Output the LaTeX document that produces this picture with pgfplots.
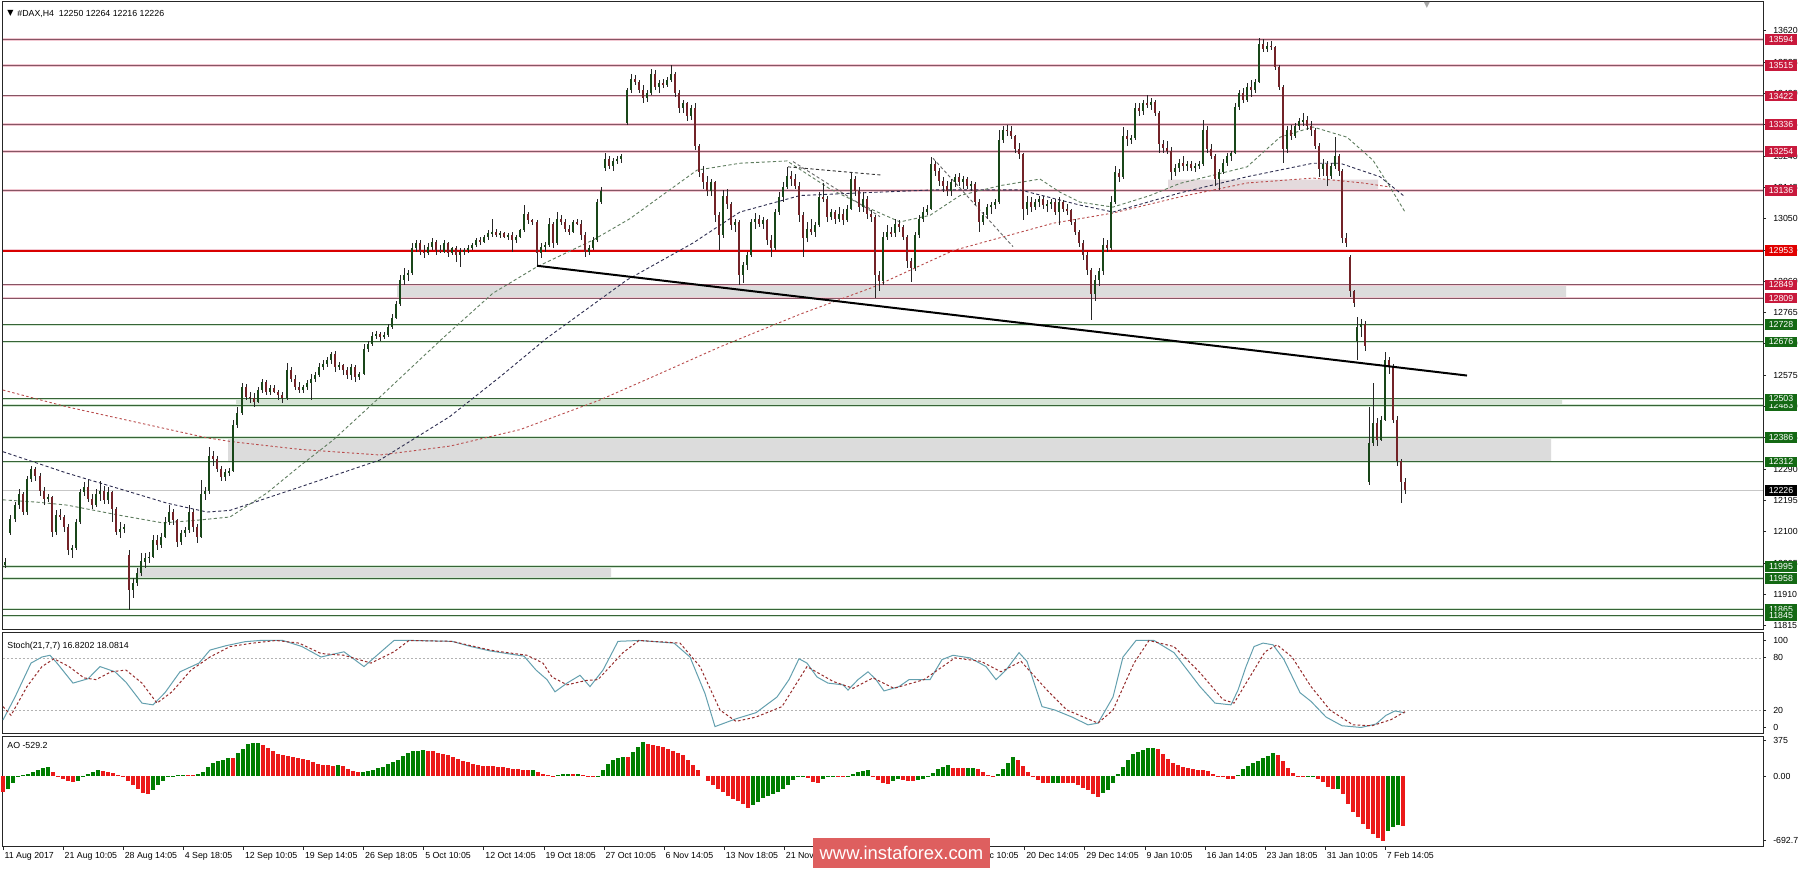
\documentclass[border=0pt]{standalone}
\usepackage{fontspec}
\setmainfont{Liberation Sans}
\newfontfamily\dejavu{DejaVu Sans}
\usepackage{pgfplots}
\usepackage{pgfplotstable}
\pgfplotsset{compat=1.18}

\definecolor{bullc}{RGB}{25,70,25}
\definecolor{bearc}{RGB}{115,35,40}
\definecolor{lvlred}{RGB}{200,25,60}
\definecolor{lvlbright}{RGB}{225,0,0}
\definecolor{lvlredline}{RGB}{135,85,100}
\definecolor{lvlredglow}{RGB}{242,200,210}
\definecolor{lvlgreen}{RGB}{20,105,20}
\definecolor{lvlgreenline}{RGB}{55,100,55}
\definecolor{lvlgreenglow}{RGB}{210,230,210}
\definecolor{stochmain}{RGB}{100,160,175}
\definecolor{stochsig}{RGB}{150,45,45}
\definecolor{aogreen}{RGB}{0,125,0}
\definecolor{aored}{RGB}{235,25,25}
\definecolor{mafast}{RGB}{95,125,95}
\definecolor{mamid}{RGB}{45,45,80}
\definecolor{maslow}{RGB}{185,75,75}
\definecolor{zone}{RGB}{220,220,220}
\definecolor{zonegreen}{RGB}{214,228,214}
\definecolor{zonepink}{RGB}{228,218,221}
\definecolor{wm}{RGB}{222,95,95}

\newcommand{\tk}{\fontsize{4.4}{5}\selectfont}
\tikzset{lblbox/.style={anchor=west, xshift=1pt, fill=#1, text=white, font=\tk, inner sep=0pt, minimum width=15.6pt, minimum height=5.3pt}}

\pgfplotsset{
  mt4/.style={scale only axis, xmin=3, xmax=1763,
    axis line style={draw=black!85, line width=0.5pt},
    ytick pos=right, yticklabel pos=right, tick align=outside,
    major tick length=1.6pt, tick style={draw=black!85, line width=0.4pt},
    ticklabel style={font=\tk, text=black},
    clip=false,
    /pgf/number format/assume math mode=true,
    /pgf/number format/1000 sep={},
    scaled y ticks=false, scaled x ticks=false},
  wick/.style={only marks, mark=*, mark size=0.01pt, mark options={draw opacity=0, fill opacity=0},
    error bars/.cd, y dir=both, y explicit, error mark=none,
    error bar style={line width=0.45pt, color=black!85, solid}},
  body/.style={only marks, mark=*, mark size=0.01pt, mark options={draw opacity=0, fill opacity=0},
    error bars/.cd, y dir=both, y explicit, error mark=none,
    error bar style={line width=1.3pt, color=#1, solid}},
}

\pgfplotstableread{
x O H L C
5 12000 12020 11990 12010
10 12095 12150 12090 12140
15 12140 12190 12130 12180
19 12180 12230 12170 12215
23 12215 12220 12150 12160
27 12160 12270 12150 12260
31 12260 12300 12250 12290
35 12290 12298 12255 12270
40 12270 12280 12210 12225
44 12225 12235 12180 12200
48 12200 12215 12190 12205
52 12205 12210 12085 12100
56 12100 12165 12090 12150
60 12150 12170 12135 12145
64 12145 12150 12100 12115
68 12115 12125 12030 12045
72 12045 12060 12020 12050
76 12050 12140 12045 12130
80 12130 12230 12125 12220
84 12220 12250 12210 12235
88 12235 12258 12190 12200
92 12200 12215 12170 12180
96 12180 12230 12175 12215
100 12215 12255 12195 12225
104 12225 12240 12185 12195
108 12195 12235 12185 12220
112 12220 12225 12130 12170
116 12170 12175 12090 12100
120 12100 12130 12080 12110
124 12110 12125 12095 12115
129 12030 12045 11862 11925
133 11925 11960 11900 11945
137 11945 11990 11935 11975
141 11975 12035 11965 12010
145 12010 12035 11990 12020
149 12020 12040 12005 12025
153 12025 12090 12020 12075
157 12075 12090 12045 12060
161 12060 12095 12050 12085
165 12085 12145 12080 12130
169 12130 12180 12120 12160
173 12160 12170 12120 12135
177 12135 12140 12055 12070
181 12070 12105 12060 12095
185 12095 12115 12085 12105
189 12105 12180 12095 12160
193 12160 12170 12100 12115
197 12115 12125 12065 12085
201 12085 12258 12080 12215
205 12215 12235 12195 12225
209 12225 12357 12215 12330
213 12330 12345 12300 12320
217 12320 12330 12280 12290
221 12290 12300 12255 12265
225 12265 12290 12255 12280
229 12280 12295 12270 12285
233 12285 12440 12280 12425
237 12425 12478 12415 12460
242 12460 12550 12455 12540
246 12540 12548 12500 12510
250 12510 12525 12490 12505
254 12505 12520 12480 12495
258 12495 12540 12490 12530
262 12530 12565 12520 12555
266 12555 12560 12515 12525
270 12525 12545 12515 12535
274 12535 12545 12520 12525
278 12525 12530 12500 12515
282 12515 12525 12490 12505
287 12505 12612 12500 12590
291 12590 12600 12555 12565
295 12565 12575 12530 12540
299 12540 12555 12520 12530
303 12530 12545 12520 12540
307 12540 12560 12530 12550
311 12550 12580 12500 12565
315 12565 12585 12555 12575
319 12575 12612 12570 12600
323 12600 12620 12590 12610
327 12610 12630 12600 12620
331 12620 12645 12610 12640
335 12640 12648 12585 12600
339 12600 12615 12590 12605
343 12605 12610 12575 12590
347 12590 12600 12565 12575
351 12575 12610 12560 12600
355 12600 12605 12555 12570
359 12570 12585 12560 12580
364 12580 12670 12575 12655
368 12655 12680 12645 12670
372 12670 12705 12665 12695
376 12695 12710 12685 12700
380 12700 12705 12680 12690
384 12690 12705 12685 12698
388 12698 12730 12690 12720
392 12720 12760 12715 12750
396 12750 12800 12745 12790
400 12790 12880 12785 12865
404 12865 12900 12850 12880
408 12880 12895 12860 12885
412 12885 12975 12880 12960
416 12960 12985 12950 12975
420 12975 12985 12940 12950
424 12950 12970 12930 12945
428 12945 12975 12940 12965
432 12965 12990 12955 12980
436 12980 12985 12940 12955
440 12955 12970 12945 12950
444 12950 12985 12945 12975
448 12975 12980 12935 12945
452 12945 12965 12940 12960
456 12960 12968 12920 12940
460 12940 12960 12903 12950
464 12950 12962 12940 12955
468 12955 12970 12945 12960
472 12960 12975 12955 12970
476 12970 12990 12965 12985
480 12985 12995 12970 12980
484 12980 13000 12975 12995
488 12995 13015 12985 13005
492 13005 13050 12995 13010
496 13010 13020 12995 13000
500 13000 13012 12990 13005
504 13005 13010 12990 12995
508 12995 13005 12985 13000
512 13000 13010 12950 12985
516 12985 13000 12975 12995
520 12995 13020 12990 13015
524 13015 13091 13010 13065
528 13065 13070 13035 13045
532 13045 13050 13030 13040
537 13040 13045 12904 12945
541 12945 12975 12930 12965
545 12965 12980 12950 12970
549 12970 13052 12965 13035
553 13035 13040 12960 12975
557 12975 13070 12970 13050
561 13050 13060 13030 13040
565 13040 13050 13010 13020
569 13020 13030 13000 13010
573 13010 13045 13005 13040
577 13040 13050 13030 13035
581 13035 13045 12985 13000
585 13000 13010 12935 12950
589 12950 12970 12940 12960
593 12960 12995 12955 12985
597 12985 13110 12980 13100
601 13100 13145 13095 13135
605 13205 13250 13195 13230
609 13230 13240 13200 13210
613 13210 13235 13195 13225
617 13225 13240 13215 13230
621 13230 13245 13220 13240
627 13340 13446 13335 13440
631 13440 13490 13430 13475
635 13475 13485 13455 13465
639 13465 13470 13430 13440
643 13440 13455 13400 13415
647 13415 13440 13405 13430
651 13430 13505 13425 13490
655 13490 13500 13440 13450
659 13450 13470 13430 13460
663 13460 13475 13445 13455
667 13455 13480 13450 13470
671 13470 13516 13465 13490
675 13490 13495 13420 13430
679 13430 13440 13370 13385
683 13385 13410 13370 13400
687 13400 13405 13345 13360
691 13360 13395 13350 13385
695 13385 13400 13258 13270
699 13270 13275 13176 13190
703 13190 13210 13140 13160
707 13160 13180 13120 13135
711 13135 13170 13120 13160
715 13160 13165 13040 13060
719 13060 13070 12955 13000
723 13000 13137 12990 13120
727 13120 13140 13080 13095
731 13095 13100 13015 13030
735 13030 13050 13010 13040
739 13040 13045 12850 12880
743 12880 12920 12855 12910
747 12910 12950 12895 12940
751 12940 13050 12935 13040
755 13040 13067 13020 13050
759 13050 13060 13025 13035
763 13035 13055 13020 13045
767 13045 13050 12970 12985
771 12985 13000 12935 12960
775 12960 13080 12955 13070
779 13070 13130 13060 13115
783 13115 13160 13100 13145
787 13145 13207 13140 13180
791 13180 13195 13150 13170
795 13170 13185 13140 13150
799 13150 13160 13040 13060
803 13060 13070 12935 12990
807 12990 13040 12980 13020
811 13020 13050 13000 13010
815 13010 13040 12995 13030
819 13030 13130 13025 13115
823 13115 13158 13100 13110
827 13110 13120 13040 13055
831 13055 13080 13045 13070
835 13070 13075 13035 13050
839 13050 13085 13040 13065
843 13065 13080 13030 13045
847 13045 13090 13040 13080
851 13080 13188 13075 13170
855 13170 13180 13120 13135
859 13135 13145 13070 13085
863 13085 13130 13070 13110
867 13110 13120 13050 13065
871 13065 13075 13040 13055
875 13055 13060 12809 12880
879 12880 12890 12830 12860
883 12860 13010 12850 12995
887 12995 13030 12985 13010
891 13010 13025 12995 13005
895 13005 13050 12995 13035
899 13035 13045 13010 13025
903 13025 13030 12985 12995
907 12995 13000 12900 12920
911 12920 12930 12858 12900
915 12900 13010 12890 13000
919 13000 13060 12990 13050
923 13050 13085 13040 13070
927 13070 13090 13060 13080
931 13080 13237 13075 13215
935 13215 13225 13180 13195
939 13195 13205 13150 13165
943 13165 13175 13130 13150
947 13150 13165 13120 13135
951 13135 13170 13120 13160
955 13160 13185 13145 13175
959 13175 13190 13150 13160
963 13160 13180 13140 13170
967 13170 13175 13140 13150
971 13150 13165 13135 13155
975 13155 13160 13090 13100
979 13100 13110 13009 13040
983 13040 13070 13030 13060
987 13060 13095 13050 13085
991 13085 13100 13065 13090
995 13090 13110 13080 13100
999 13100 13320 13095 13290
1003 13290 13330 13280 13320
1007 13320 13334 13300 13315
1011 13315 13330 13290 13300
1015 13300 13305 13250 13260
1019 13260 13280 13230 13245
1023 13245 13250 13045 13080
1027 13080 13120 13060 13100
1031 13100 13115 13070 13085
1035 13085 13110 13075 13100
1039 13100 13120 13085 13110
1043 13110 13118 13080 13090
1047 13090 13105 13070 13095
1051 13095 13110 13080 13100
1055 13100 13110 13060 13070
1059 13070 13115 13030 13100
1063 13100 13105 13070 13080
1067 13080 13095 13060 13075
1071 13075 13080 13030 13040
1075 13040 13050 13000 13010
1079 13010 13015 12965 12975
1083 12975 12985 12925 12940
1087 12940 12950 12880 12895
1091 12895 12900 12742 12820
1095 12820 12880 12800 12865
1099 12865 12900 12845 12890
1103 12890 12990 12880 12970
1107 12970 12985 12950 12960
1111 12960 13120 12955 13100
1115 13100 13210 13095 13190
1119 13190 13200 13160 13175
1123 13175 13329 13170 13300
1127 13300 13320 13270 13290
1131 13290 13305 13275 13295
1135 13295 13400 13290 13385
1139 13385 13400 13360 13375
1143 13375 13410 13365 13400
1147 13400 13425 13385 13395
1151 13395 13415 13380 13405
1155 13405 13410 13360 13370
1159 13370 13375 13248 13275
1163 13275 13290 13250 13265
1167 13265 13285 13245 13255
1171 13255 13267 13167 13190
1175 13190 13215 13180 13205
1179 13205 13230 13190 13220
1183 13220 13240 13195 13210
1187 13210 13225 13195 13215
1191 13215 13225 13195 13205
1195 13205 13220 13190 13210
1199 13210 13225 13200 13215
1203 13215 13350 13210 13320
1207 13320 13330 13250 13260
1211 13260 13275 13230 13240
1215 13240 13245 13150 13170
1219 13170 13200 13137 13190
1223 13190 13230 13185 13220
1227 13220 13250 13210 13240
1231 13240 13255 13225 13250
1235 13250 13400 13245 13390
1239 13390 13440 13380 13430
1243 13430 13445 13400 13410
1247 13410 13460 13405 13450
1251 13450 13470 13420 13440
1255 13440 13475 13430 13465
1259 13465 13598 13460 13580
1263 13580 13595 13555 13565
1267 13565 13585 13555 13575
1271 13575 13590 13560 13570
1275 13570 13575 13500 13510
1279 13510 13515 13440 13450
1283 13450 13455 13218 13260
1287 13260 13330 13250 13320
1291 13320 13335 13290 13300
1295 13300 13340 13295 13330
1299 13330 13355 13320 13345
1303 13345 13370 13330 13350
1307 13350 13360 13320 13330
1311 13330 13345 13300 13320
1315 13320 13325 13260 13270
1319 13270 13280 13176 13200
1323 13200 13230 13180 13215
1327 13215 13225 13150 13180
1331 13180 13220 13170 13210
1335 13210 13297 13200 13240
1339 13240 13245 13180 13195
1342 13195 13200 12975 12990
1346 12990 13005 12965 12975
1350 12935 12940 12812 12830
1354 12830 12834 12783 12795
1357 12680 12752 12622 12720
1361 12720 12745 12690 12730
1365 12730 12740 12650 12665
1369 12250 12480 12242 12370
1373 12370 12550 12360 12430
1377 12430 12445 12360 12380
1381 12380 12450 12375 12440
1385 12440 12645 12435 12620
1389 12620 12630 12580 12600
1393 12600 12610 12430 12440
1397 12440 12450 12300 12315
1401 12315 12320 12187 12250
1405 12250 12264 12216 12226
}\candles

\pgfplotstableread{
x v c
3 -167 0
8 -142 1
13 -75 1
18 -15 1
23 10 1
28 24 1
33 42 1
38 62 1
43 85 1
48 100 1
53 40 0
58 5 0
63 -30 0
68 -55 0
73 -67 0
78 -55 1
83 -10 1
88 25 1
93 48 1
98 62 1
103 58 0
108 45 0
113 32 0
118 15 0
123 -5 0
128 -55 0
133 -100 0
138 -142 0
143 -185 0
148 -196 0
153 -150 1
158 -95 1
163 -50 1
168 -5 1
173 5 1
178 8 1
183 10 1
188 9 0
193 8 0
198 20 1
203 46 1
208 95 1
213 135 1
218 160 1
223 176 1
228 192 1
233 188 0
238 250 1
243 290 1
248 340 1
253 348 1
258 350 1
263 330 0
268 300 0
273 270 0
278 240 0
283 228 0
288 215 0
293 205 0
298 195 0
303 182 0
308 170 0
313 145 0
318 130 0
323 120 0
328 114 0
333 112 0
338 116 1
343 105 0
348 80 0
353 55 0
358 40 0
363 42 1
368 55 1
373 68 1
378 82 1
383 100 1
388 125 1
393 150 1
398 174 1
403 210 1
408 242 1
413 262 1
418 272 1
423 276 1
428 272 0
433 262 0
438 250 0
443 238 0
448 220 0
453 198 0
458 178 0
463 160 0
468 145 0
473 128 0
478 118 0
483 110 0
488 106 0
493 103 0
498 100 0
503 96 0
508 88 0
513 80 0
518 72 0
523 64 0
528 62 0
533 66 1
538 45 0
543 25 0
548 8 0
553 -5 0
558 8 1
563 18 1
568 21 1
573 19 0
578 20 1
583 15 0
588 5 0
593 -8 0
598 -6 1
603 64 1
608 125 1
613 171 1
618 190 1
623 206 1
628 200 0
633 255 1
638 310 1
643 359 1
648 340 0
653 328 0
658 318 0
663 307 0
668 290 0
673 270 0
678 250 0
683 220 0
688 170 0
693 120 0
698 60 0
703 0 0
708 -55 0
713 -100 0
718 -140 0
723 -175 0
728 -215 0
733 -245 0
738 -270 0
743 -300 0
748 -342 0
753 -310 1
758 -275 1
763 -240 1
768 -215 1
773 -195 1
778 -170 1
783 -140 1
788 -95 1
793 -40 1
798 -15 1
803 2 1
808 -20 0
813 -60 0
818 -70 0
823 -35 1
828 -10 1
833 -5 1
838 -8 0
843 -10 0
848 -5 1
853 25 1
858 46 1
863 58 1
868 64 1
873 5 0
878 -40 0
883 -70 0
888 -85 0
893 -55 1
898 -36 1
903 -45 0
908 -50 0
913 -52 0
918 -40 1
923 -36 1
928 -10 1
933 35 1
938 70 1
943 100 1
948 117 1
953 90 0
958 85 0
963 84 0
968 86 1
973 88 1
978 70 0
983 45 0
988 15 0
993 -2 0
998 20 1
1003 80 1
1008 140 1
1013 199 1
1018 170 0
1023 110 0
1028 40 0
1033 -10 0
1038 -45 0
1043 -71 0
1048 -75 0
1053 -72 1
1058 -70 1
1063 -72 0
1068 -75 0
1073 -80 0
1078 -100 0
1083 -125 0
1088 -150 0
1093 -190 0
1098 -221 0
1103 -185 1
1108 -150 1
1113 -70 1
1118 20 1
1123 100 1
1128 170 1
1133 230 1
1138 260 1
1143 280 1
1148 295 1
1153 300 1
1158 285 0
1163 240 0
1168 180 0
1173 140 0
1178 115 0
1183 100 0
1188 85 0
1193 75 0
1198 68 0
1203 64 0
1208 50 0
1213 25 0
1218 5 0
1223 -10 0
1228 -28 0
1233 -36 0
1238 10 1
1243 70 1
1248 110 1
1253 140 1
1258 160 1
1263 190 1
1268 215 1
1273 242 1
1278 225 0
1283 165 0
1288 90 0
1293 28 0
1298 5 0
1303 2 0
1308 3 1
1313 4 1
1318 -30 0
1323 -60 0
1328 -115 0
1333 -140 0
1338 -135 1
1343 -190 0
1348 -300 0
1353 -380 0
1358 -440 0
1363 -510 0
1368 -570 0
1373 -620 0
1378 -660 0
1383 -692.7 0
1388 -590 1
1393 -540 1
1398 -520 1
1403 -529.2 0
}\aotab

\begin{document}
\begin{tikzpicture}
\useasboundingbox (0,0) rectangle (900pt,434pt);
\fill[white] (0,0) rectangle (900pt,434pt);

% ================= MAIN PRICE PANEL =================
\begin{axis}[mt4, at={(1.5pt,119pt)}, anchor=south west, width=880pt, height=314pt,
  ymin=11802.2, ymax=13707.1, xtick=\empty,
  ytick={11815,11910,...,13620},
  yticklabel style={/pgf/number format/fixed, /pgf/number format/precision=0}]

% zones
\addplot[fill=zone, draw=none] coordinates {(397,12809) (1566,12809) (1566,12849) (397,12849) (397,12809)};
\addplot[fill=zonegreen, draw=none] coordinates {(236,12483) (1562,12483) (1562,12503) (236,12503) (236,12483)};
\addplot[fill=zone, draw=none] coordinates {(228,12312) (1551,12312) (1551,12386) (228,12386) (228,12312)};
\addplot[fill=zone, draw=none] coordinates {(138,11958) (611,11958) (611,11995) (138,11995) (138,11958)};
\addplot[fill=zonepink, draw=none] coordinates {(1168,13136) (1378,13136) (1378,13168) (1168,13168) (1168,13136)};

% horizontal levels
\pgfplotsinvokeforeach{13594,13515,13422,13336,13254,13136,12849,12809}{
  \addplot[lvlredglow, line width=1.3pt] coordinates {(3,#1) (1763,#1)};
  \addplot[lvlredline, line width=0.5pt] coordinates {(3,#1) (1763,#1)};
}
\addplot[lvlredglow, line width=1.8pt] coordinates {(3,12953) (1763,12953)};
\addplot[red!85!black, line width=0.9pt] coordinates {(3,12953) (1763,12953)};
\pgfplotsinvokeforeach{12728,12676,12503,12483,12386,12312,11995,11958,11865,11845}{
  \addplot[lvlgreenglow, line width=1.2pt] coordinates {(3,#1) (1763,#1)};
  \addplot[lvlgreenline, line width=0.5pt] coordinates {(3,#1) (1763,#1)};
}
\addplot[black!22, line width=0.5pt] coordinates {(3,12226) (1763,12226)};

% moving averages
\addplot[maslow, line width=0.45pt, dash pattern=on 1.2pt off 1.2pt] coordinates {
(3,12530) (67,12479) (140,12430) (207,12385) (233,12373) (300,12350) (380,12333) (450,12360) (520,12410) (600,12500) (660,12580) (720,12661) (800,12760) (873,12842) (953,12953) (1053,13036) (1113,13067) (1180,13116) (1247,13158) (1313,13173) (1363,13158) (1390,13146)};
\addplot[mamid, line width=0.45pt, dash pattern=on 1.6pt off 1.2pt] coordinates {
(3,12343) (67,12278) (120,12230) (167,12187) (207,12160) (230,12165) (300,12236) (380,12318) (450,12450) (500,12570) (547,12688) (627,12864) (693,12976) (740,13070) (800,13120) (860,13128) (933,13137) (1020,13137) (1080,13091) (1113,13070) (1180,13128) (1247,13177) (1313,13218) (1340,13218) (1380,13177) (1405,13116)};
\addplot[mafast, line width=0.45pt, dash pattern=on 1.6pt off 1.2pt] coordinates {
(3,12197) (37,12190) (67,12181) (120,12150) (163,12127) (200,12136) (230,12145) (267,12218) (300,12300) (333,12378) (380,12509) (443,12688) (493,12824) (537,12904) (593,12985) (630,13050) (660,13116) (697,13197) (740,13218) (787,13225) (830,13140) (870,13080) (900,13040) (930,13060) (960,13120) (1000,13150) (1040,13170) (1060,13130) (1080,13100) (1113,13085) (1150,13120) (1180,13157) (1247,13207) (1280,13297) (1313,13328) (1347,13297) (1373,13227) (1390,13146) (1405,13070)};
% drawn dashed segments
\addplot[black!80, line width=0.45pt, dash pattern=on 1.6pt off 1.2pt] coordinates {(788,13207) (882,13182)};
\addplot[black!60, line width=0.45pt, dash pattern=on 1.6pt off 1.2pt] coordinates {(793,13223) (880,13056)};
\addplot[black!60, line width=0.45pt, dash pattern=on 1.6pt off 1.2pt] coordinates {(933,13233) (1013,12965)};

% candles
\addplot[wick] table[x=x, y expr={(\thisrow{H}+\thisrow{L})/2}, y error expr={(\thisrow{H}-\thisrow{L})/2}] {\candles};
\addplot[body=bullc] table[x=x, y expr={(\thisrow{O}+\thisrow{C})/2}, y error expr={ifthenelse(\thisrow{C}>=\thisrow{O},max(abs(\thisrow{C}-\thisrow{O})/2,2.5),0)}] {\candles};
\addplot[body=bearc] table[x=x, y expr={(\thisrow{O}+\thisrow{C})/2}, y error expr={ifthenelse(\thisrow{C}<\thisrow{O},max(abs(\thisrow{C}-\thisrow{O})/2,2.5),0)}] {\candles};

% trendline
\addplot[black, line width=1pt] coordinates {(537,12907) (1467,12574)};

% anchors for price labels
\pgfplotsinvokeforeach{13594,13515,13422,13336,13254,13136,12953,12849,12809,12728,12676,12503,12483,12386,12312,12226,11995,11958,11865,11845}{
  \coordinate (L#1) at (axis cs:1763,#1);
}
\coordinate (HDR) at (axis cs:7,13672);
\coordinate (HDR2) at (axis cs:17,13672);
\coordinate (TRI) at (axis cs:1427,13696);
\end{axis}

\foreach \v in {13594,13515,13422,13336,13254,13136,12849,12809}{\node[lblbox=lvlred] at (L\v) {\v};}
\node[lblbox=lvlbright] at (L12953) {12953};
\foreach \v in {12728,12676,12483,12503,12386,12312,11995,11958,11865,11845}{\node[lblbox=lvlgreen] at (L\v) {\v};}
\node[lblbox=black] at (L12226) {12226};
\node[anchor=west, font=\dejavu\fontsize{4}{4}\selectfont, inner sep=0pt] at (HDR) {▼};
\node[anchor=west, font=\tk, inner sep=0pt] at (HDR2) {\#DAX,H4\ \ 12250 12264 12216 12226};
\node[font=\dejavu\fontsize{4}{4}\selectfont, text=black!35, inner sep=0pt] at (TRI) {▼};

% ================= STOCHASTIC PANEL =================
\begin{axis}[mt4, at={(1.5pt,67pt)}, anchor=south west, width=880pt, height=50.5pt,
  ymin=-7.5, ymax=108.6, xtick=\empty, ytick={0,20,80,100}]
\addplot[black!30, line width=0.35pt, dash pattern=on 1pt off 1pt] coordinates {(3,80) (1763,80)};
\addplot[black!30, line width=0.35pt, dash pattern=on 1pt off 1pt] coordinates {(3,20) (1763,20)};
\addplot[stochmain, line width=0.5pt] coordinates {
(3,8.6) (15,35) (31,74) (42,81) (50,83) (57,74) (73,51) (88,56) (100,70) (115,64) (126,52) (142,28) (153,26) (165,40) (180,64) (199,74) (210,89) (226,94) (245,98.6) (260,100) (283,100) (302,93) (321,81) (344,87) (364,70) (379,85) (394,100) (413,100) (452,99) (471,93) (490,88) (524,82) (536,66) (547,55) (555,41) (567,51) (580,60) (590,47) (603,66) (618,99) (639,100) (674,97) (690,81) (705,39) (715,1) (736,10) (756,17) (777,35) (789,55) (799,79) (807,74) (817,58) (828,51) (843,49) (848,43) (858,55) (868,64) (876,55) (884,42) (899,47) (909,55) (930,55) (942,78) (953,83) (970,80) (986,70) (996,55) (1006,66) (1019,86) (1027,76) (1042,24) (1055,20) (1072,12) (1088,3) (1098,5) (1113,35) (1123,81) (1136,100) (1154,100) (1174,86) (1200,47) (1215,28) (1231,26) (1238,43) (1246,70) (1254,93) (1263,97) (1273,95) (1284,78) (1300,40) (1311,30) (1326,12) (1342,2) (1361,0) (1376,4) (1386,14) (1395,19) (1405,16.8)};
\addplot[stochsig, line width=0.5pt, dash pattern=on 1.3pt off 1.1pt] coordinates {
(3,24) (11,14) (27,47) (42,70) (54,79) (69,70) (84,57) (96,55) (111,64) (126,66) (142,51) (157,28) (172,41) (191,66) (210,81) (230,93) (253,97) (276,100) (299,97) (321,85) (344,83) (371,74) (394,87) (409,100) (452,99) (490,89) (501,87) (527,83) (543,74) (552,58) (567,49) (586,54) (598,55) (623,86) (639,100) (680,97) (700,70) (720,20) (736,7) (756,12) (782,24) (807,70) (833,53) (853,45) (873,57) (894,45) (924,55) (955,80) (981,76) (1001,64) (1021,76) (1047,43) (1067,20) (1098,5) (1113,20) (1134,74) (1149,100) (1174,93) (1200,63) (1223,32) (1234,28) (1254,66) (1265,87) (1277,95) (1292,81) (1311,47) (1330,20) (1353,3) (1372,2) (1391,9) (1405,18.1)};
\node[anchor=west, font=\tk, inner sep=0pt] at (axis cs:7,93) {Stoch(21,7,7) 16.8202 18.0814};
\end{axis}

% ================= AO PANEL =================
\begin{axis}[mt4, at={(1.5pt,10.5pt)}, anchor=south west, width=880pt, height=55pt,
  ymin=-758, ymax=416.4,
  ytick={-692.7,0,375}, yticklabels={-692.7,0.00,375},
  xtick pos=bottom,
  xtick={3,63.1,123.2,183.3,243.4,303.5,363.6,423.7,483.8,543.9,604,664.1,724.2,784.3,844.4,904.5,964.6,1024.7,1084.8,1144.9,1205,1265.1,1325.2,1385.3},
  xticklabels={11 Aug 2017,21 Aug 10:05,28 Aug 14:05,4 Sep 18:05,12 Sep 10:05,19 Sep 14:05,26 Sep 18:05,5 Oct 10:05,12 Oct 14:05,19 Oct 18:05,27 Oct 10:05,6 Nov 14:05,13 Nov 18:05,21 Nov 10:05,28 Nov 14:05,5 Dec 18:05,13 Dec 10:05,20 Dec 14:05,29 Dec 14:05,9 Jan 10:05,16 Jan 14:05,23 Jan 18:05,31 Jan 10:05,7 Feb 14:05},
  xticklabel style={anchor=north west, xshift=-0.4pt, inner sep=1pt}]
\addplot[ycomb, aogreen, line width=1.6pt] table[x=x, y expr={ifthenelse(\thisrow{c}==1,\thisrow{v},0)}] {\aotab};
\addplot[ycomb, aored, line width=1.6pt] table[x=x, y expr={ifthenelse(\thisrow{c}==0,\thisrow{v},0)}] {\aotab};
\node[anchor=west, font=\tk, inner sep=0pt] at (axis cs:7,330) {AO -529.2};
\end{axis}

% watermark
\node[fill=wm, text=white, minimum width=88.5pt, minimum height=15pt, inner sep=0pt,
  font=\fontsize{9.2}{10}\selectfont] at (450.75pt,7.5pt) {www.instaforex.com};
\end{tikzpicture}
\end{document}
